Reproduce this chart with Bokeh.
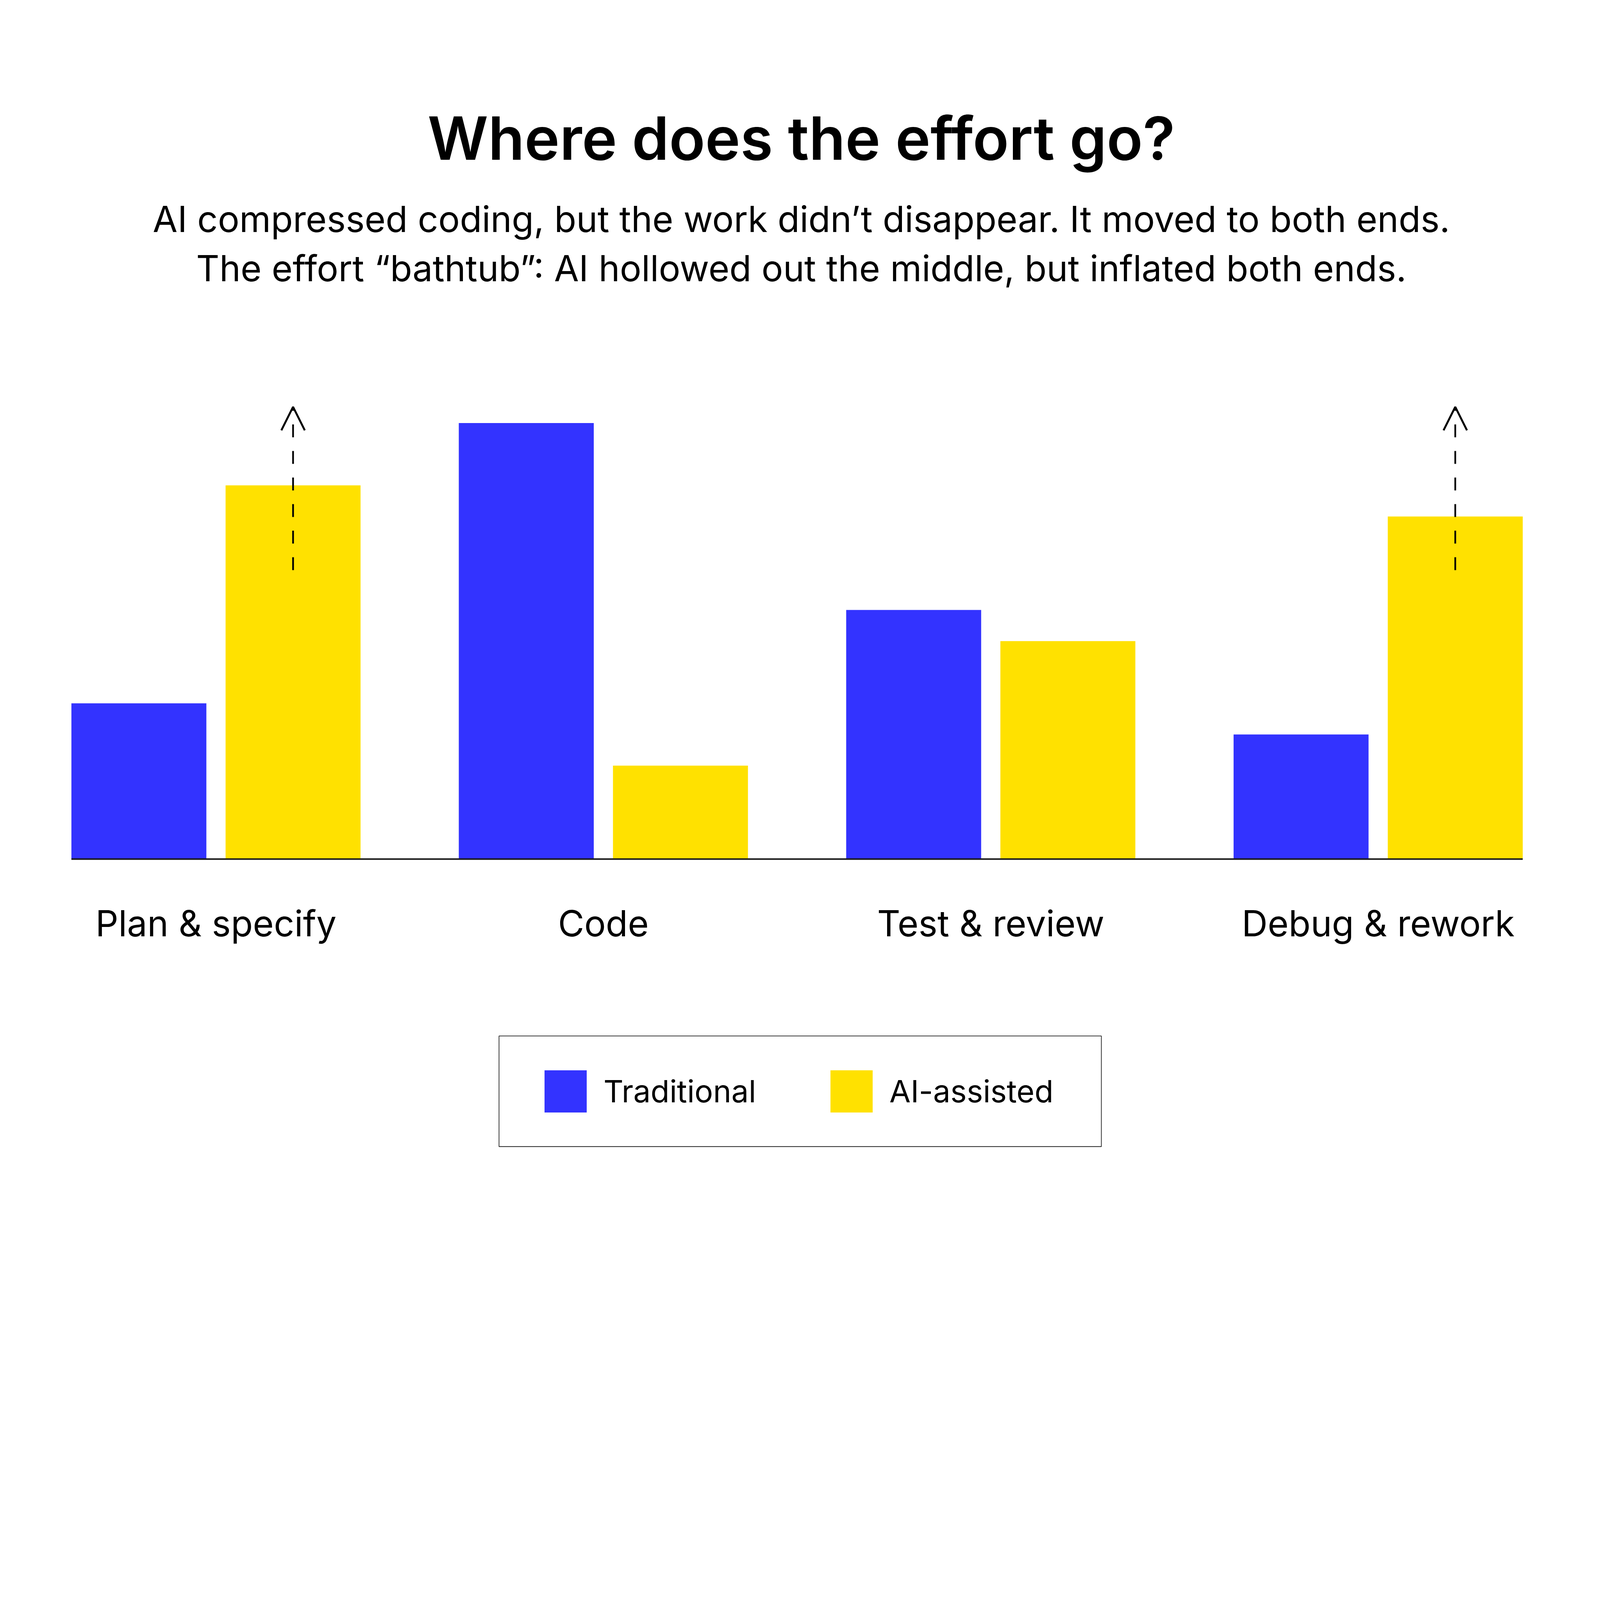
from bokeh.plotting import figure
from bokeh.models import FactorRange, Range1d, ColumnDataSource, Label, Arrow, OpenHead, BoxAnnotation
from bokeh.transform import dodge
from bokeh.core.properties import value
from bokeh.embed import file_html
from bokeh.resources import INLINE

# data
stages = ["Plan & specify", "Code", "Test & review", "Debug & rework"]
traditional = [12.5, 35, 20, 10]
ai_assisted = [30, 7.5, 17.5, 27.5]

# dashed "still growing" arrows on the AI bars at both ends
arrow_stages = ["Plan & specify", "Debug & rework"]
arrow_from = [23.2, 23.2]
arrow_to = [36.3, 36.3]

title = "Where does the effort go?"
subtitle = ["AI compressed coding, but the work didn\u2019t disappear. It moved to both ends.",
            "The effort \u201cbathtub\u201d: AI hollowed out the middle, but inflated both ends."]

BLUE = "#3333FF"
YELLOW = "#FFE100"
INK = "black"
FONT = "Inter"

# page is laid out in css pixels, the reference was measured in screen pixels
K = 4096 / 5626
W, H = 4080, 3261
px_unit = 43.8 * K              # pixels per value unit
base_y = 3020 * K               # baseline, from top of canvas
cx = 2817 * K                   # horizontal centre of the texts

def up(ref_y):
    # reference y (from top) -> screen units from the frame bottom
    return H - ref_y * K

src = ColumnDataSource(data=dict(stage=stages, trad=traditional, ai=ai_assisted))
arr = ColumnDataSource(data=dict(stage=arrow_stages, y0=arrow_from, y1=arrow_to))
ends = ColumnDataSource(data=dict(first=[stages[0]], last=[stages[-1]]))

x_range = FactorRange(factors=stages, range_padding=0.057, range_padding_units="absolute")
y_range = Range1d(-(H - base_y) / px_unit, base_y / px_unit)
p = figure(width=W, height=H, x_range=x_range, y_range=y_range,
           x_axis_location=None, y_axis_location=None,
           output_backend="svg", toolbar_location=None, min_border=0)
p.outline_line_color = None
p.grid.visible = False
p.background_fill_color = "white"
p.border_fill_color = "white"

off = 0.199
bw = 0.3484
p.vbar(x=dodge("stage", -off, range=p.x_range), top="trad", width=bw, source=src,
       fill_color=BLUE, line_color=None, legend_label="Traditional")
p.vbar(x=dodge("stage", off, range=p.x_range), top="ai", width=bw, source=src,
       fill_color=YELLOW, line_color=None, legend_label="AI-assisted")

# baseline under the bars only
p.segment(x0=dodge("first", -off - bw / 2, range=p.x_range), y0=0,
          x1=dodge("last", off + bw / 2, range=p.x_range), y1=0,
          source=ends, line_color="#1a1a1a", line_width=4)

p.add_layout(Arrow(x_start=dodge("stage", off, range=p.x_range), y_start="y0",
                   x_end=dodge("stage", off, range=p.x_range), y_end="y1", source=arr,
                   line_color="black", line_width=4.4, line_dash="33 35",
                   end=OpenHead(size=60, line_width=5, line_color="black")))

# category names under the groups
label_y = (base_y - 3292 * K) / px_unit + 1.07
p.text(x="stage", y=label_y, text="stage", source=src, text_align="center",
       text_baseline="alphabetic", text_font=value(FONT), text_font_size="92px",
       text_color=INK)

# title and subtitle
p.add_layout(Label(x=cx, y=up(565) + 58, x_units="screen", y_units="screen", text=title,
                   text_align="center", text_baseline="alphabetic", text_font="Inter SemiBold, Inter",
                   text_font_style="bold", text_font_size="152px", text_color=INK))
for line, yb in zip(subtitle, [815.5, 989]):
    p.add_layout(Label(x=cx, y=up(yb) + 34, x_units="screen", y_units="screen", text=line,
                       text_align="center", text_baseline="alphabetic", text_font=FONT,
                       text_font_size="92px", text_color=INK))

# legend: items from bokeh, frame drawn as a box
p.add_layout(BoxAnnotation(left=1754 * K, right=3872 * K, top=up(3642), bottom=up(4031),
                           left_units="screen", right_units="screen",
                           top_units="screen", bottom_units="screen",
                           fill_alpha=0, line_color="#222222", line_width=1.8, line_alpha=1))

lg = p.legend[0]
lg.orientation = "horizontal"
lg.padding = 0
lg.spacing = 176
lg.glyph_width = 135
lg.glyph_height = 135
lg.label_standoff = 30
lg.label_text_font = FONT
lg.label_text_font_size = "79px"
lg.label_text_color = INK
lg.label_text_baseline = "middle"
lg.border_line_color = None
lg.background_fill_alpha = 0
lg.margin = 0
lg.location = (1914 * K - 13.5, up(3911) - 13.5)

open("out.html", "w").write(file_html(p, INLINE))
